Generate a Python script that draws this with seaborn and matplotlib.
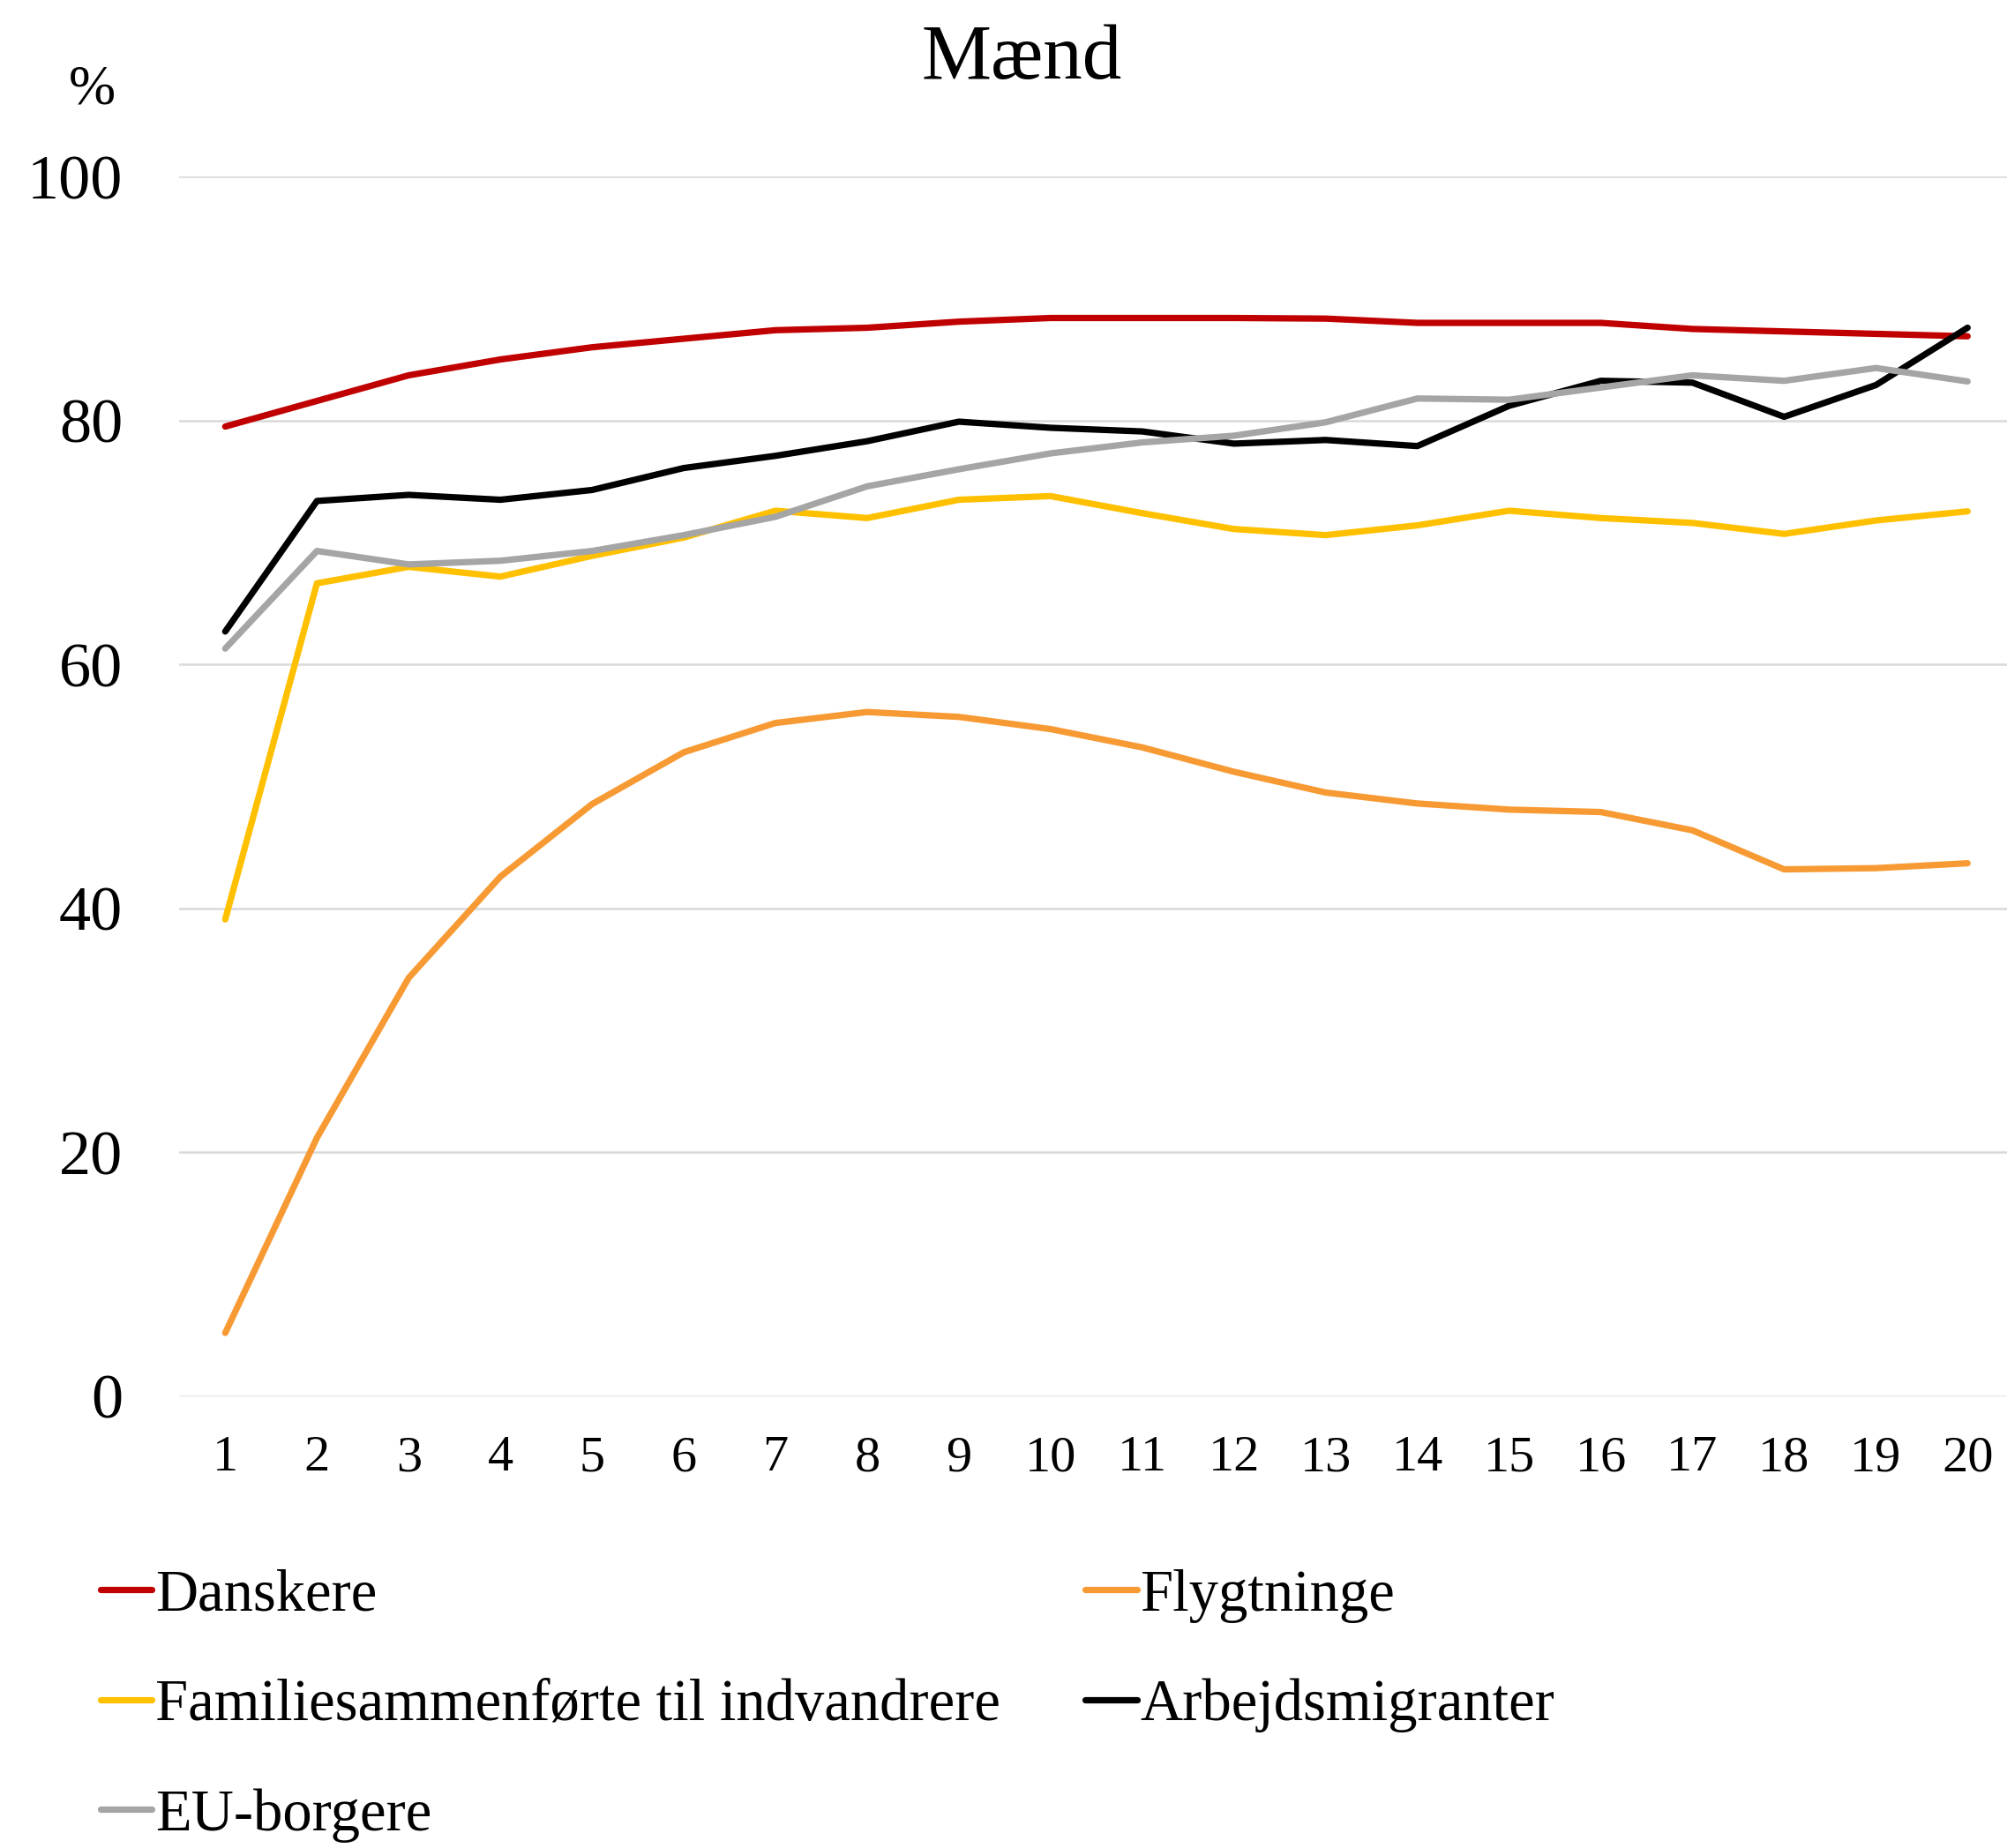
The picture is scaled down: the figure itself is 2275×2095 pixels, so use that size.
import matplotlib
matplotlib.use('Agg')

import pandas as pd
import matplotlib.pyplot as plt
import seaborn as sns

# Opholdsår 1-20
aar = list(range(1, 21))

danskere = [79.5, 81.6, 83.7, 85.0, 86.0, 86.7, 87.4, 87.6, 88.1, 88.4,
            88.4, 88.4, 88.35, 88.0, 88.0, 88.0, 87.5, 87.3, 87.1, 86.9]
flygtninge = [5.2, 21.2, 34.3, 42.6, 48.55, 52.8, 55.2, 56.1, 55.7, 54.7,
              53.2, 51.2, 49.5, 48.6, 48.1, 47.9, 46.4, 43.2, 43.3, 43.7]
familiesammenfoerte = [39.1, 66.65, 68.0, 67.2, 68.9, 70.4, 72.6, 72.0, 73.5, 73.8,
                       72.4, 71.1, 70.6, 71.4, 72.6, 72.0, 71.6, 70.7, 71.8, 72.55]
arbejdsmigranter = [62.7, 73.4, 73.9, 73.5, 74.3, 76.1, 77.1, 78.3, 79.9, 79.4,
                    79.1, 78.1, 78.4, 77.9, 81.2, 83.25, 83.1, 80.3, 82.9, 87.6]
eu_borgere = [61.3, 69.3, 68.2, 68.5, 69.3, 70.6, 72.1, 74.6, 76.0, 77.3,
              78.2, 78.75, 79.85, 81.8, 81.7, 82.7, 83.7, 83.25, 84.3, 83.2]

grupper = ["Danskere", "Flygtninge", "Familiesammenførte til indvandrere",
           "Arbejdsmigranter", "EU-borgere"]
farver = ["#C00000", "#F79A33", "#FFC000", "#000000", "#A5A5A5"]

y_ticks = [0, 20, 40, 60, 80, 100]

serier = [danskere, flygtninge, familiesammenfoerte, arbejdsmigranter, eu_borgere]
df = pd.concat([pd.DataFrame({"Aar": aar, "Andel": v, "Gruppe": g})
                for g, v in zip(grupper, serier)], ignore_index=True)

sns.set_style("white")
plt.rcParams['font.family'] = ['Liberation Serif', 'DejaVu Serif']
plt.rcParams['text.color'] = 'black'
plt.rcParams['xtick.color'] = 'black'
plt.rcParams['ytick.color'] = 'black'

fig = plt.figure(figsize=(22.75, 20.95), dpi=100)
ax = fig.add_axes([0.0892, 0.2444, 0.9108, 0.6601])

sns.lineplot(data=df, x="Aar", y="Andel", hue="Gruppe", hue_order=grupper,
             palette=farver, linewidth=5.2, ax=ax, legend=False,
             solid_capstyle='round')

ax.set_xlim(0.496, 20.43)
ax.set_ylim(0, 100)
ax.set_xticks(aar)
ax.set_xticklabels([str(a) for a in aar], fontsize=42)
ax.set_yticks(y_ticks)
ax.set_yticklabels([str(t) for t in y_ticks], fontsize=52)
ax.tick_params(axis='x', length=0, pad=32, labelcolor='black')
ax.tick_params(axis='y', length=0, pad=46, labelcolor='black')
ax.yaxis.grid(True, color="#D9D9D9", linewidth=1.8)
ax.xaxis.grid(False)
ax.set_axisbelow(True)
for s in ax.spines.values():
    s.set_visible(False)
ax.set_xlabel("")
ax.set_ylabel("")

fig.text(0.509, 0.968, "Mænd", ha='center', va='center', fontsize=64,
         color='black')
fig.text(0.046, 0.951, "%", ha='center', va='center', fontsize=46,
         color='black')

# legend: to kolonner, raekkefoelge som i figuren
linjer = ax.get_lines()
raekke = [0, 2, 4, 1, 3]
leg = fig.legend([linjer[i] for i in raekke], [grupper[i] for i in raekke],
                 loc='upper left', bbox_to_anchor=(0.05, 0.151), ncol=2,
                 frameon=False, fontsize=48, handlelength=0.88, handletextpad=0.05,
                 labelspacing=0.95, columnspacing=1.45, borderpad=0, borderaxespad=0,
                 labelcolor='black')

fig.savefig("out.png", dpi=100)
plt.close(fig)
